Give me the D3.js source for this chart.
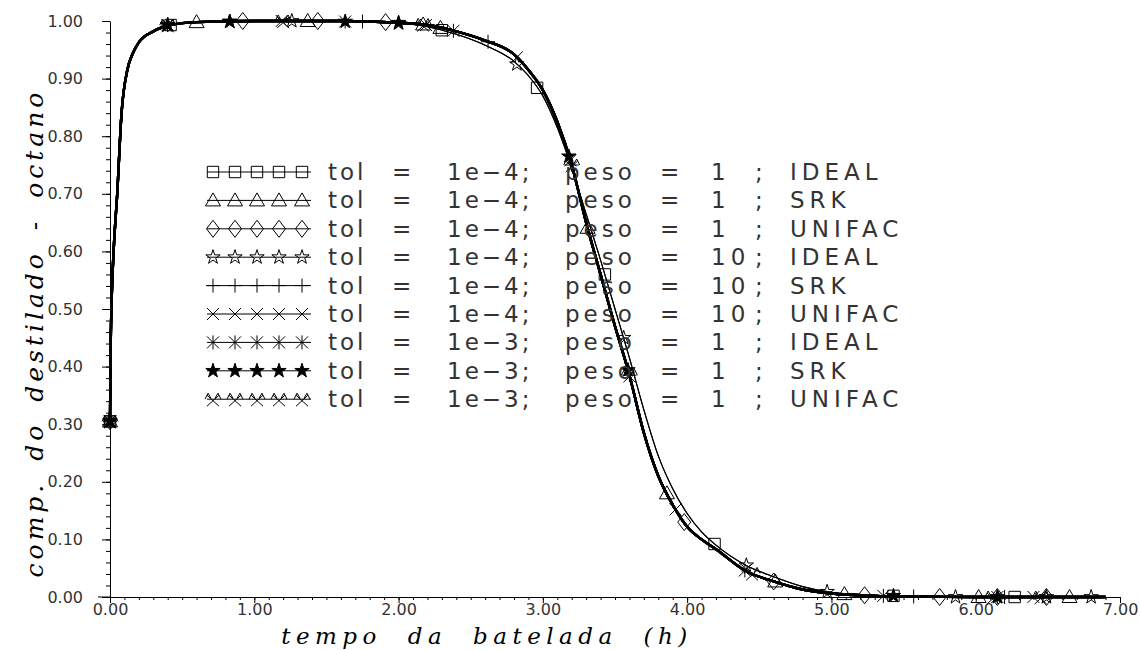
<!DOCTYPE html>
<html>
<head>
<meta charset="utf-8">
<script src="https://cdn.jsdelivr.net/npm/d3@7"></script>
<style>
  body { margin: 0; background: #fff; }
  svg text { font-family: "DejaVu Sans", sans-serif; }
</style>
</head>
<body>
<div id="chart"></div>
<script>
// === Data ===
// shared time grid (h) for the two visible curve families
const curveTime = [0, 0.004, 0.012, 0.025, 0.05, 0.08, 0.12, 0.16, 0.2, 0.3, 0.42, 0.6, 1.0, 1.6, 2.0, 2.2, 2.4, 2.6, 2.8, 2.9, 3.0, 3.1, 3.2, 3.3, 3.4, 3.5, 3.6, 3.7, 3.8, 3.9, 4.0, 4.1, 4.2, 4.4, 4.6, 4.8, 5.0, 5.3, 5.6, 6.0, 6.9];
// most runs (thick bundle)
const compMain = [0.305, 0.42, 0.52, 0.6, 0.7, 0.84, 0.915, 0.945, 0.963, 0.982, 0.993, 0.998, 1.0, 1.0, 0.997, 0.993, 0.982, 0.966, 0.942, 0.915, 0.88, 0.825, 0.75, 0.65, 0.56, 0.47, 0.385, 0.285, 0.21, 0.16, 0.122, 0.1, 0.083, 0.046, 0.027, 0.013, 0.006, 0.002, 0.001, 0, 0];
// IDEAL runs (thin curve, slightly later)
const compIdeal = [0.305, 0.42, 0.52, 0.6, 0.7, 0.84, 0.915, 0.945, 0.963, 0.982, 0.993, 0.998, 1.0, 1.0, 0.996, 0.99, 0.977, 0.958, 0.93, 0.905, 0.87, 0.815, 0.745, 0.665, 0.585, 0.5, 0.415, 0.325, 0.245, 0.188, 0.145, 0.113, 0.09, 0.056, 0.035, 0.018, 0.008, 0.003, 0.001, 0, 0];

// legend / series descriptors
const seriesTol = ["1e\u22124", "1e\u22124", "1e\u22124", "1e\u22124", "1e\u22124", "1e\u22124", "1e\u22123", "1e\u22123", "1e\u22123"];
const seriesPeso = ["1", "1", "1", "10", "10", "10", "1", "1", "1"];
const seriesModel = ["IDEAL", "SRK", "UNIFAC", "IDEAL", "SRK", "UNIFAC", "IDEAL", "SRK", "UNIFAC"];
const seriesCurve = ["ideal", "main", "main", "ideal", "main", "main", "main", "main", "main"];

// marker points [tempo, comp] for each run
const marks = [
  [[0, 0.305], [0.42, 0.993], [2.30, 0.984], [2.96, 0.884], [3.43, 0.56], [4.19, 0.092], [5.43, 0.002], [6.27, 0]],
  [[0, 0.305], [0.60, 0.998], [1.37, 1.0], [2.17, 0.994], [2.29, 0.988], [3.31, 0.641], [3.86, 0.18], [4.61, 0.027], [5.09, 0.005], [6.02, 0], [6.65, 0]],
  [[0, 0.305], [0.92, 1.0], [1.44, 1.0], [1.91, 0.998], [3.98, 0.13], [4.60, 0.027], [5.23, 0.003], [5.75, 0], [6.15, 0], [6.49, 0]],
  [[0, 0.305], [0.40, 0.993], [0.83, 0.999], [1.26, 1.0], [2.0, 0.996], [2.82, 0.925], [3.56, 0.45], [4.41, 0.055], [4.97, 0.009], [5.86, 0], [6.49, 0], [6.80, 0]],
  [[0, 0.305], [0.40, 0.993], [1.75, 0.999], [2.62, 0.964], [3.20, 0.75], [3.60, 0.385], [5.57, 0.001], [6.20, 0]],
  [[0, 0.305], [0.40, 0.993], [1.19, 1.0], [2.19, 0.993], [2.82, 0.937], [3.92, 0.152], [6.40, 0]],
  [[0, 0.305], [0.40, 0.993], [1.63, 0.999], [2.38, 0.983], [3.19, 0.758], [4.40, 0.046], [5.36, 0.002], [6.15, 0]],
  [[0, 0.305], [0.40, 0.993], [0.83, 0.999], [1.63, 0.999], [2.0, 0.997], [3.18, 0.765], [3.59, 0.394], [5.43, 0.002], [6.15, 0]],
  [[0, 0.305], [0.40, 0.993], [1.20, 1.0], [2.17, 0.994], [3.20, 0.75], [3.60, 0.385], [4.45, 0.041], [6.12, 0], [6.45, 0]]
];

const xTicks = [0, 1, 2, 3, 4, 5, 6, 7];
const yTicks = [0, 0.1, 0.2, 0.3, 0.4, 0.5, 0.6, 0.7, 0.8, 0.9, 1.0];

// === Layout ===
const width = 1140, height = 650;
const x = d3.scaleLinear().domain([0, 7]).range([110, 1120]);
const y = d3.scaleLinear().domain([0, 1]).range([597, 21]);

const svg = d3.select("#chart").append("svg")
  .attr("width", width)
  .attr("height", height);

// === Marker shapes ===
const starPath = d3.symbol(d3.symbolStar, 64)();
const shapes = [
  { d: d3.symbol(d3.symbolSquare, 130)(), fill: "none" },
  { d: "M0,-7.5L7.5,5.5L-7.5,5.5Z", fill: "none" },
  { d: "M0,-8.5L6.5,0L0,8.5L-6.5,0Z", fill: "none" },
  { d: starPath, fill: "none" },
  { d: "M-7,0H7M0,-7V7", fill: "none" },
  { d: "M-6,-6L6,6M-6,6L6,-6", fill: "none" },
  { d: "M-6,-6L6,6M-6,6L6,-6M0,-7V7", fill: "none" },
  { d: starPath, fill: "#000" },
  { d: "M-6,-4L6,7M-6,7L6,-4M-8,0L-5,-6L-2,-1M2,-1L5,-6L8,0", fill: "none" }
];

// === Axes ===
svg.append("g")
  .attr("transform", `translate(${x(0)},0)`)
  .call(d3.axisLeft(y).tickValues(yTicks).tickFormat(d3.format(".2f"))
    .tickSize(8).tickSizeOuter(0).tickPadding(19));

svg.append("g")
  .attr("transform", `translate(${x(0)},0)`)
  .call(d3.axisLeft(y).tickValues(d3.range(0, 51).map(i => i / 50)).tickFormat("")
    .tickSize(4).tickSizeOuter(0))
  .select(".domain").remove();

svg.append("g")
  .attr("transform", `translate(0,${y(0)})`)
  .call(d3.axisBottom(x).tickValues(xTicks).tickFormat(d3.format(".2f"))
    .tickSize(6).tickSizeOuter(0).tickPadding(1));

svg.append("g")
  .attr("transform", `translate(0,${y(0)})`)
  .call(d3.axisBottom(x).tickValues(d3.range(0, 71).map(i => i / 10)).tickFormat("")
    .tickSize(3).tickSizeOuter(0))
  .select(".domain").remove();

// x axis line runs a little past the y axis, as in the original plot
svg.append("line")
  .attr("x1", x(0) - 12).attr("x2", x(0))
  .attr("y1", y(0)).attr("y2", y(0))
  .attr("stroke", "#000");

svg.selectAll(".tick text")
  .attr("fill", "#333")
  .style("font-size", "16px")
  .style("font-family", "'DejaVu Sans', sans-serif");

// === Lines ===
const line = d3.line()
  .x(d => x(d[0]))
  .y(d => y(d[1]))
  .curve(d3.curveMonotoneX);

const curves = {
  main: curveTime.map((t, i) => [t, compMain[i]]),
  ideal: curveTime.map((t, i) => [t, compIdeal[i]])
};

svg.append("g")
  .selectAll("path")
  .data(seriesCurve)
  .join("path")
  .attr("d", c => line(curves[c]))
  .attr("fill", "none")
  .attr("stroke", "#000")
  .attr("stroke-width", c => c === "main" ? 2.4 : 1.1);

// === Markers ===
marks.forEach((pts, i) => {
  svg.append("g")
    .selectAll("path")
    .data(pts)
    .join("path")
    .attr("transform", d => `translate(${x(d[0])},${y(d[1])})`)
    .attr("d", shapes[i].d)
    .attr("fill", shapes[i].fill)
    .attr("stroke", "#000")
    .attr("stroke-width", 1);
});

// === Legend ===
const legend = svg.append("g")
  .selectAll("g")
  .data(seriesModel)
  .join("g")
  .attr("transform", (d, i) => `translate(0,${180 + i * 28.4})`);

legend.append("line")
  .attr("x1", 207).attr("x2", 311)
  .attr("y1", -8).attr("y2", -8)
  .attr("stroke", "#000");

legend.each(function (d, i) {
  d3.select(this).selectAll("path")
    .data([213, 235, 257, 279, 302])
    .join("path")
    .attr("transform", px => `translate(${px},-8)`)
    .attr("d", shapes[i].d)
    .attr("fill", shapes[i].fill)
    .attr("stroke", "#000");
});

const legendText = (sel, xPos, fn, spacing) => sel.append("text")
  .attr("x", xPos)
  .attr("fill", "#333")
  .style("font-size", "23px")
  .style("letter-spacing", spacing + "px")
  .text(fn);

legendText(legend, 328, "tol", 3);
legendText(legend, 392, "=", 0);
legendText(legend, 447, (d, i) => seriesTol[i] + ";", 3);
legendText(legend, 565, "peso", 4);
legendText(legend, 660, "=", 0);
legendText(legend, 711, (d, i) => seriesPeso[i], 5);
legendText(legend, 755, ";", 0);
legendText(legend, 790, d => d, 5);

// === Axis titles ===
svg.append("text")
  .attr("x", 487)
  .attr("y", 644)
  .attr("text-anchor", "middle")
  .style("font-family", "'DejaVu Serif', serif")
  .style("font-style", "italic")
  .style("font-size", "23px")
  .style("letter-spacing", "5.5px")
  .style("word-spacing", "13px")
  .text("tempo da batelada (h)");

svg.append("text")
  .attr("transform", "translate(43,333) rotate(-90)")
  .attr("text-anchor", "middle")
  .style("font-family", "'DejaVu Serif', serif")
  .style("font-style", "italic")
  .style("font-size", "25px")
  .style("letter-spacing", "4px")
  .style("word-spacing", "8px")
  .text("comp. do destilado - octano");
</script>
</body>
</html>
